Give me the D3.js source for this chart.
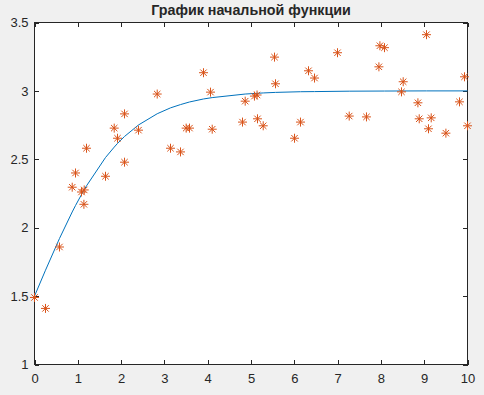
<!DOCTYPE html>
<html><head><meta charset="utf-8">
<script src="https://cdn.jsdelivr.net/npm/d3@7"></script>
<style>
html,body{margin:0;padding:0;background:#F0F0F0;}
svg{display:block;}
text{font-family:"Liberation Sans",Arial,Helvetica,sans-serif;fill:#262626;}
</style></head>
<body>
<script>
// Data
const title = "График начальной функции";
const pointsX = [0, 0.254, 0.577, 0.871, 0.947, 1.085, 1.148, 1.141, 1.201, 1.640, 1.841, 1.917, 2.079, 2.079, 2.402, 2.834, 3.141, 3.372, 3.503, 3.580, 3.903, 4.065, 4.104, 4.804, 4.866, 5.08, 5.14, 5.150, 5.282, 5.543, 5.566, 6.005, 6.143, 6.328, 6.467, 6.998, 7.268, 7.667, 7.954, 7.977, 8.083, 8.476, 8.515, 8.855, 8.885, 9.053, 9.099, 9.162, 9.501, 9.815, 9.931, 10.0];
const pointsY = [1.49, 1.41, 1.859, 2.296, 2.40, 2.261, 2.276, 2.171, 2.581, 2.376, 2.728, 2.654, 2.832, 2.479, 2.713, 2.977, 2.581, 2.554, 2.728, 2.728, 3.133, 2.991, 2.720, 2.772, 2.925, 2.962, 2.970, 2.796, 2.745, 3.247, 3.052, 2.654, 2.772, 3.147, 3.094, 3.279, 2.816, 2.810, 3.176, 3.330, 3.316, 2.993, 3.067, 2.913, 2.796, 3.411, 2.723, 2.803, 2.691, 2.920, 3.103, 2.745];
const curveX = [0, 0.254, 0.577, 0.871, 0.947, 1.085, 1.141, 1.201, 1.640, 1.841, 1.917, 2.079, 2.402, 2.834, 3.141, 3.372, 3.580, 3.903, 4.104, 4.866, 5.282, 5.566, 6.143, 6.467, 7.268, 8.083, 9.053, 10];
const curveY = [1.5, 1.689, 1.921, 2.115, 2.162, 2.242, 2.274, 2.306, 2.513, 2.589, 2.616, 2.667, 2.751, 2.833, 2.876, 2.900, 2.919, 2.941, 2.951, 2.977, 2.985, 2.989, 2.994, 2.995, 2.998, 2.999, 3.0, 3.0];
const xTicks = [0,1,2,3,4,5,6,7,8,9,10];
const yTicks = [1,1.5,2,2.5,3,3.5];

const W = 484, H = 395;
const L = 34.5, R = 467.5, T = 22.5, B = 364.5;
const svg = d3.select("body").append("svg").attr("width", W).attr("height", H);
svg.append("rect").attr("width", W).attr("height", H).attr("fill", "#F0F0F0");

const x = d3.scaleLinear().domain([0, 10]).range([L, R]);
const y = d3.scaleLinear().domain([1, 3.5]).range([B, T]);

svg.append("rect").attr("x", L).attr("y", T).attr("width", R - L).attr("height", B - T)
  .attr("fill", "#fff");

const fmt = d => String(d);
const styleAxis = g => {
  g.select(".domain").remove();
  g.selectAll("line").attr("stroke", "#262626").attr("shape-rendering", "crispEdges");
  g.selectAll("text").attr("font-size", "13px").attr("fill", "#262626")
    .attr("font-family", '"Liberation Sans",Arial,sans-serif');
};

svg.append("g").attr("transform", `translate(0,${B})`)
  .call(d3.axisBottom(x).tickValues(xTicks).tickFormat(fmt).tickSize(-4.5).tickPadding(9.5))
  .call(styleAxis);
svg.append("g").attr("transform", `translate(0,${T})`)
  .call(d3.axisTop(x).tickValues(xTicks).tickFormat("").tickSize(-4.5))
  .call(styleAxis);
svg.append("g").attr("transform", `translate(${L},0)`)
  .call(d3.axisLeft(y).tickValues(yTicks).tickFormat(fmt).tickSize(-4.5).tickPadding(6))
  .call(styleAxis);
svg.append("g").attr("transform", `translate(${R},0)`)
  .call(d3.axisRight(y).tickValues(yTicks).tickFormat("").tickSize(-4.5))
  .call(styleAxis);

svg.append("rect").attr("x", L).attr("y", T).attr("width", R - L).attr("height", B - T)
  .attr("fill", "none").attr("stroke", "#262626").attr("stroke-width", 1)
  .attr("shape-rendering", "crispEdges");

const curve = curveX.map((v, i) => [v, curveY[i]]);
svg.append("path").datum(curve)
  .attr("d", d3.line().x(d => x(d[0])).y(d => y(d[1])))
  .attr("fill", "none").attr("stroke", "#0072BD").attr("stroke-width", 1);

const r = 4.5, rd = 3.2;
const star = `M${-r},0H${r}M0,${-r}V${r}M${-rd},${-rd}L${rd},${rd}M${-rd},${rd}L${rd},${-rd}`;
svg.append("g").selectAll("path").data(pointsX.map((v, i) => [v, pointsY[i]]))
  .join("path")
  .attr("transform", d => `translate(${x(d[0])},${y(d[1])})`)
  .attr("d", star)
  .attr("fill", "none").attr("stroke", "#D95319").attr("stroke-width", 1);

svg.append("text").attr("x", (L + R) / 2).attr("y", 15)
  .attr("text-anchor", "middle").attr("font-weight", "bold").attr("font-size", "14.3px")
  .attr("fill", "#000").text(title);
</script>
</body></html>
